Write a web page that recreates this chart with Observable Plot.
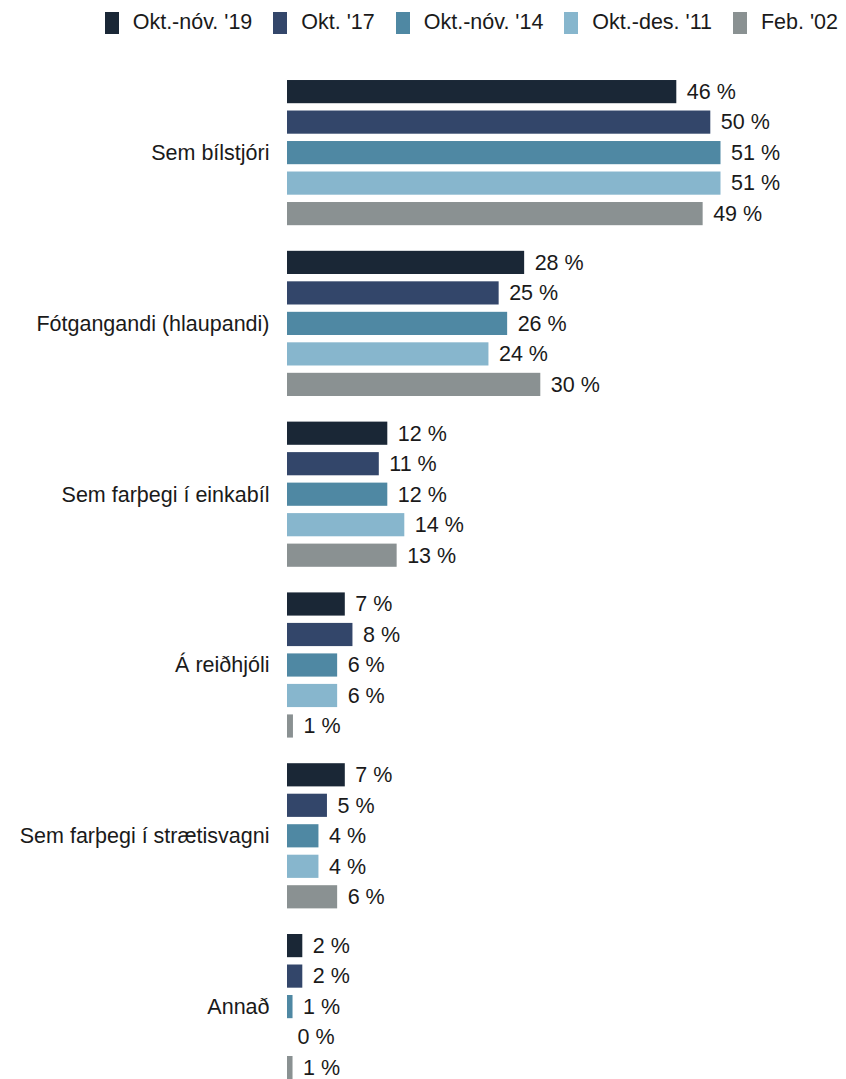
<!DOCTYPE html>
<html>
<head>
<meta charset="utf-8">
<script src="https://cdn.jsdelivr.net/npm/d3@7"></script>
<script src="https://cdn.jsdelivr.net/npm/@observablehq/plot@0.6"></script>
<style>
  html, body { margin: 0; padding: 0; background: #fff; overflow: hidden; }
  body { width: 846px; height: 1079px; font-family: "Liberation Sans", Arial, sans-serif; color: #1a1a1a; }
  #legend { display: flex; justify-content: flex-end; align-items: center; height: 45px; padding-right: 8px; font-size: 21.5px; }
  .item { display: flex; align-items: center; margin-left: 21px; }
  .item:first-child { margin-left: 0; }
  .sw { width: 14px; height: 22px; margin-right: 14px; }
</style>
</head>
<body>
<div id="legend"></div>
<div id="chart"></div>
<script>
const categories = ["Sem bílstjóri", "Fótgangandi (hlaupandi)", "Sem farþegi í einkabíl", "Á reiðhjóli", "Sem farþegi í strætisvagni", "Annað"];
const series = ["Okt.-nóv. '19", "Okt. '17", "Okt.-nóv. '14", "Okt.-des. '11", "Feb. '02"];
const colors = ["#1a2736", "#33466a", "#4f88a3", "#87b6cd", "#8a9192"];
// values per category, in series order (percent)
const semBilstjori   = [45.8, 49.8, 51.0, 51.0, 48.9];
const fotgangandi    = [27.9, 24.9, 25.9, 23.7, 29.8];
const einkabil       = [11.8, 10.8, 11.8, 13.8, 12.9];
const reidhjoli      = [6.8, 7.7, 5.9, 5.9, 0.7];
const straetisvagni  = [6.8, 4.7, 3.7, 3.7, 5.9];
const annad          = [1.8, 1.8, 0.65, 0, 0.65];
const valueRows = [semBilstjori, fotgangandi, einkabil, reidhjoli, straetisvagni, annad];

const data = [];
categories.forEach((c, i) => series.forEach((s, j) => data.push({category: c, series: s, value: valueRows[i][j]})));

// legend
const legend = document.getElementById("legend");
series.forEach((s, j) => {
  const it = document.createElement("div");
  it.className = "item";
  const sw = document.createElement("div");
  sw.className = "sw";
  sw.style.background = colors[j];
  const t = document.createElement("span");
  t.textContent = s;
  it.appendChild(sw); it.appendChild(t);
  legend.appendChild(it);
});

const chart = Plot.plot({
  width: 846,
  height: 1041.5,
  marginLeft: 287,
  marginRight: 49,
  marginTop: 27.7,
  marginBottom: 0,
  style: {fontFamily: "'Liberation Sans', Arial, sans-serif", fontSize: "21.5px", color: "#1a1a1a", background: "#fff"},
  x: {domain: [0, 60], axis: null},
  y: {domain: series, padding: 0.24, round: false, axis: null},
  fy: {domain: categories, paddingInner: 0.0643, paddingOuter: 0, round: false, axis: null},
  color: {domain: series, range: colors},
  marks: [
    Plot.barX(data, {x: "value", y: "series", fy: "category", fill: "series"}),
    Plot.text(data, {x: "value", y: "series", fy: "category", text: d => Math.round(d.value) + " %", dx: 10, textAnchor: "start", fill: "#1a1a1a"}),
    Plot.axisFy({anchor: "left", label: null, tickSize: 0, tickPadding: 18, fill: "#1a1a1a"})
  ]
});
document.getElementById("chart").appendChild(chart);
</script>
</body>
</html>
